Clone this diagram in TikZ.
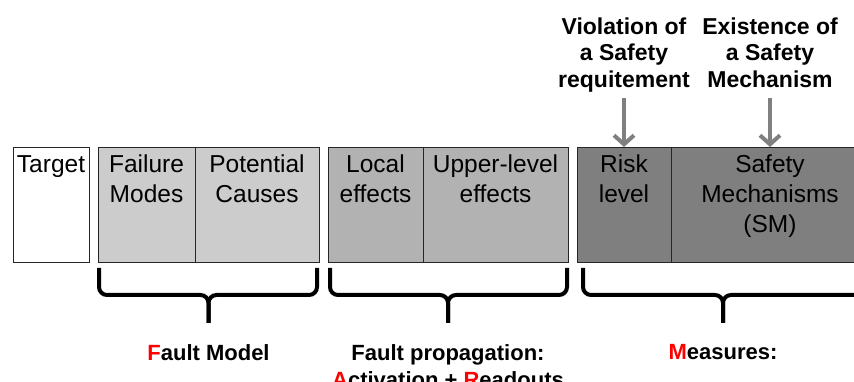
\documentclass[tikz,border=0pt]{standalone}
\usepackage{fontspec}
\setmainfont{Liberation Sans}
\usetikzlibrary{positioning,calc,arrows.meta}
\definecolor{faultgray}{HTML}{CCCCCC}
\definecolor{propgray}{HTML}{B2B2B2}
\definecolor{measgray}{HTML}{7F7F7F}
\definecolor{arrowgray}{HTML}{808080}
% rows hung from the first baseline
\newcommand{\toprows}[1]{\begin{tabular}[t]{@{}c@{}}#1\end{tabular}}

\begin{document}
\begin{tikzpicture}[
    x=1pt, y=1pt,
    cell/.style={
        rectangle,
        draw=black!85,
        line width=0.8pt,
        inner xsep=1pt,
        inner ysep=3pt,
        outer sep=0pt,
        text height=22.5pt,
        text depth=86.5pt,
        font=\fontsize{24.5}{30}\selectfont
    },
    toplabel/.style={
        align=center,
        inner sep=3pt,
        font=\bfseries\fontsize{23}{26.5}\selectfont
    },
    caption/.style={
        align=center,
        inner sep=3pt,
        font=\bfseries\fontsize{22}{27}\selectfont
    },
    warnarrow/.style={
        draw=arrowgray,
        line width=4pt,
        -{Straight Barb[length=9pt,width=20pt]},
        shorten <=3pt
    },
    brace/.style={
        draw=black,
        line width=4pt,
        rounded corners=8pt
    }
  ]
    \useasboundingbox (0,0) rectangle (854,382);

    % the row of table columns
    \node [cell, fill=white, minimum width=76pt] (target) at (51,177.5) {Target};
    \node [cell, fill=faultgray, minimum width=97pt, right=9pt of target] (fm) {\toprows{Failure\\Modes}};
    \node [cell, fill=faultgray, minimum width=124pt, right=0pt of fm] (pc) {\toprows{Potential\\Causes}};
    \node [cell, fill=propgray, minimum width=95pt, right=9pt of pc] (le) {\toprows{Local\\effects}};
    \node [cell, fill=propgray, minimum width=145pt, right=0pt of le] (ul) {\toprows{Upper-level\\effects}};
    \node [cell, fill=measgray, minimum width=94pt, right=9pt of ul] (rl) {\toprows{Risk\\level}};
    \node [cell, fill=measgray, minimum width=198pt, right=0pt of rl] (sm) {\toprows{Safety\\Mechanisms\\(SM)}};

    % inputs from above
    \node [toplabel, above=52pt of rl] (viol) {Violation of\\a Safety\\requitement};
    \node [toplabel, above=52pt of sm] (exist) {Existence of\\a Safety\\Mechanism\vphantom{q}};
    \draw [warnarrow] (viol) -- (rl);
    \draw [warnarrow] (exist) -- (sm);

    % braces under the groups
    \coordinate (fmtip) at ($(fm.south west)!0.5!(pc.south east)+(0,-61)$);
    \coordinate (fptip) at ($(le.south west)!0.5!(ul.south east)+(0,-61)$);
    \coordinate (mstip) at ($(rl.south west)!0.5!(sm.south east)+(0,-61)$);

    \draw [brace] ($(fm.south west)+(1,-6)$) |- ($(fmtip)+(0,28)$) -- (fmtip);
    \draw [brace] ($(pc.south east)+(-2,-6)$) |- ($(fmtip)+(0,28)$) -- (fmtip);
    \draw [brace] ($(le.south west)+(2,-6)$) |- ($(fptip)+(0,28)$) -- (fptip);
    \draw [brace] ($(ul.south east)+(-1,-6)$) |- ($(fptip)+(0,28)$) -- (fptip);
    \draw [brace] ($(rl.south west)+(6,-6)$) |- ($(mstip)+(0,28)$) -- (mstip);
    \draw [brace] ($(sm.south east)+(-2,-6)$) |- ($(mstip)+(0,28)$) -- (mstip);

    \node [caption, below=18pt of fmtip] (fmlabel) {\textcolor{red}{F}ault Model};
    \node [caption, below=18pt of fptip] (fplabel) {Fault propagation:\\\textcolor{red}{A}ctivation + \textcolor{red}{R}eadouts};
    \node [caption, below=18pt of mstip] (mslabel) {\textcolor{red}{M}easures:};

\end{tikzpicture}
\end{document}
